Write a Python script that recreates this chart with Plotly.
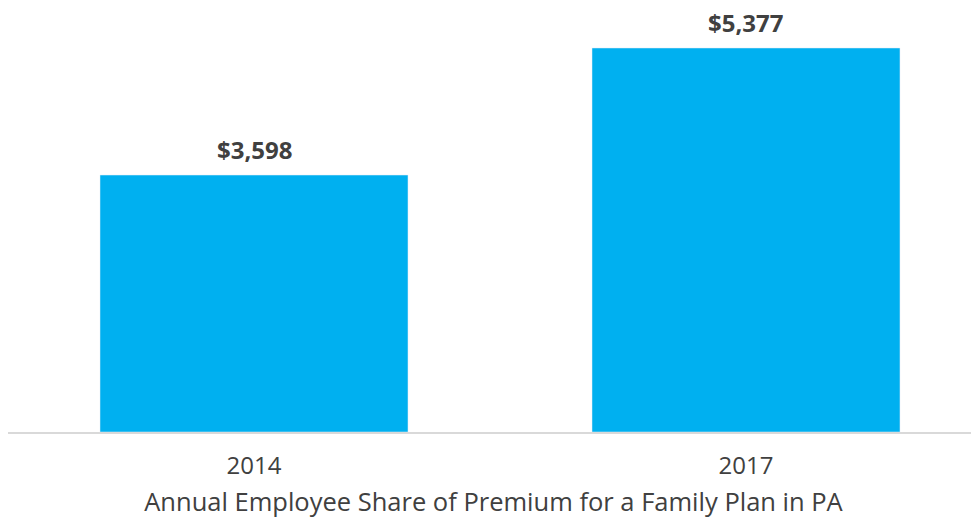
import plotly.graph_objects as go

# data
years = ["2014", "2017"]
premium = [3598, 5377]
labels = ["$3,598", "$5,377"]

BAR = "#00B0F0"
TEXT = "#404040"
FONT = "'Open Sans', sans-serif"

fig = go.Figure(go.Bar(
    x=years, y=premium, marker_color=BAR, width=0.626,
    hoverinfo="skip",
))

# value labels above bars (category index positions)
for i, (val, lab) in enumerate(zip(premium, labels)):
    fig.add_annotation(
        x=i, y=val, text=f"<b>{lab}</b>", showarrow=False,
        yanchor="bottom", yshift=8, borderpad=0,
        font=dict(family=FONT, size=24, color=TEXT),
    )

# the page body adds an 8px offset, so the figure is sized to the visible area
fig.update_layout(
    width=971, height=510,
    paper_bgcolor="white", plot_bgcolor="white",
    margin=dict(l=0, r=0, t=0, b=86),
    showlegend=False,
    font=dict(family=FONT, color=TEXT),
)
fig.update_xaxes(
    type="category", range=[-0.5, 1.4736], automargin=False,
    showline=True, linecolor="#D9D9D9", linewidth=2,
    showgrid=False, ticks="", ticklabelstandoff=11,
    tickfont=dict(family=FONT, size=24, color=TEXT),
    title=dict(text="Annual Employee Share of Premium for a Family Plan in PA",
               font=dict(family=FONT, size=25.5, color=TEXT), standoff=23),
)
fig.update_yaxes(range=[0, 5937], visible=False, showgrid=False, zeroline=False)

fig.write_html("out.html")
